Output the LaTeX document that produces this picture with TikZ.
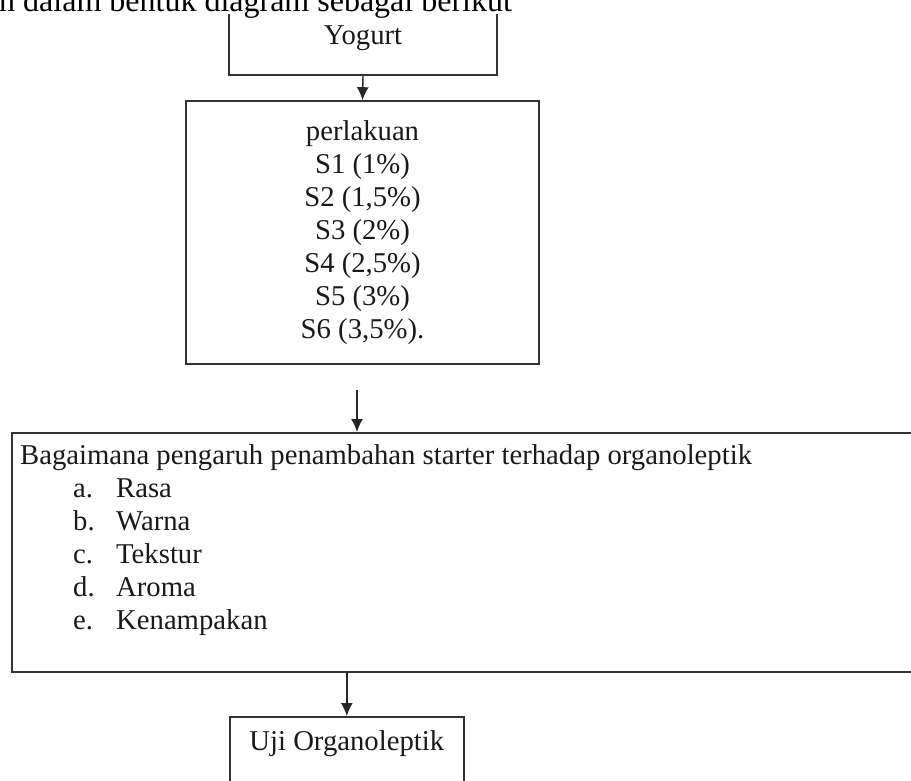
\documentclass[tikz,border=0pt]{standalone}
\usepackage{fontspec}
\setmainfont{Liberation Serif}
\usetikzlibrary{arrows.meta,positioning}

\begin{document}
\begin{tikzpicture}
    [x=1pt, y=-1pt,
     box/.style={rectangle, draw=black!80, line width=1.6pt, inner sep=0pt},
     flow/.style={-{Latex[length=13pt,width=12pt]}, line width=1.4pt, draw=black!85},
     txt/.style={font=\fontsize{28.7}{33}\selectfont, text=black!90}]
    \path[use as bounding box, clip] (0,0) rectangle (911,781);
    \node[box, txt, minimum width=268pt, minimum height=74pt] (yogurt) at (363,38) {Yogurt};
    \node[fill=white, inner sep=0pt, text depth=2pt, anchor=base west, font=\fontsize{32}{38}\selectfont] (intro) at (-1,12) {n dalam bentuk diagram sebagai berikut};
    \node[box, txt, align=center, minimum width=353pt, minimum height=263pt] (perlakuan) at (362.5,232.5)
        {perlakuan\\ S1 (1\%)\\ S2 (1,5\%)\\ S3 (2\%)\\ S4 (2,5\%)\\ S5 (3\%)\\ S6 (3,5\%).};
    \node[box, minimum width=914pt, minimum height=239pt, anchor=north west] (bigbox) at (11,432) {};
    \node[txt, align=left, inner sep=0pt, anchor=north west] (question) at (20,444)
        {Bagaimana pengaruh penambahan starter terhadap organoleptik\\
         \hspace*{53pt}\makebox[43pt][l]{a.}Rasa\\
         \hspace*{53pt}\makebox[43pt][l]{b.}Warna\\
         \hspace*{53pt}\makebox[43pt][l]{c.}Tekstur\\
         \hspace*{53pt}\makebox[43pt][l]{d.}Aroma\\
         \hspace*{53pt}\makebox[43pt][l]{e.}Kenampakan};
    \node[box, txt, minimum width=234pt, inner ysep=14pt, text height=20pt, text depth=60pt, anchor=north west] (uji) at (229,716) {Uji Organoleptik};
    \coordinate (gap) at (357,390);

    \draw[flow] (yogurt.south) -- (perlakuan.north);
    \draw[flow] (gap) -- (gap |- bigbox.north);
    \draw[flow] (bigbox.south -| uji.north) -- (uji.north);
\end{tikzpicture}
\end{document}
